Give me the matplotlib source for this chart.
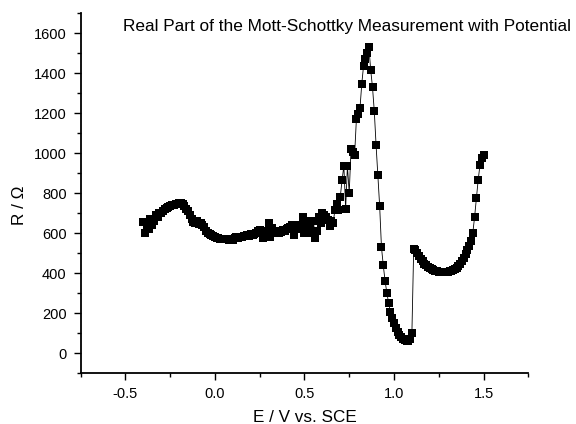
import matplotlib
matplotlib.use("Agg")
import matplotlib.pyplot as plt
import numpy as np

plt.rcParams['font.family'] = ['Liberation Sans', 'DejaVu Sans']

potential = [
    -0.40, -0.39, -0.38, -0.37, -0.36, -0.35, -0.34, -0.33, -0.32, -0.31,
    -0.30, -0.29, -0.28, -0.27, -0.26, -0.25, -0.24, -0.23, -0.22, -0.21,
    -0.20, -0.19, -0.18, -0.17, -0.16, -0.15, -0.14, -0.13, -0.12, -0.11,
    -0.10, -0.09, -0.08, -0.07, -0.06, -0.05, -0.04, -0.03, -0.02, -0.01,
    0.00, 0.01, 0.02, 0.03, 0.04, 0.05, 0.06, 0.07, 0.08, 0.09,
    0.10, 0.11, 0.12, 0.13, 0.14, 0.15, 0.16, 0.17, 0.18, 0.19,
    0.20, 0.21, 0.22, 0.23, 0.24, 0.25, 0.26, 0.27, 0.28, 0.29,
    0.30, 0.31, 0.32, 0.33, 0.34, 0.35, 0.36, 0.37, 0.38, 0.39,
    0.40, 0.41, 0.42, 0.43, 0.44, 0.45, 0.46, 0.47, 0.48, 0.49,
    0.50, 0.51, 0.52, 0.53, 0.54, 0.55, 0.56, 0.57, 0.58, 0.59,
    0.60, 0.61, 0.62, 0.63, 0.64, 0.65, 0.66, 0.67, 0.68, 0.69,
    0.70, 0.71, 0.72, 0.73, 0.74, 0.75, 0.76, 0.77, 0.78, 0.79,
    0.80, 0.81, 0.82, 0.83, 0.84, 0.85, 0.86, 0.87, 0.88, 0.89,
    0.90, 0.91, 0.92, 0.93, 0.94, 0.95, 0.96, 0.97, 0.98, 0.99,
    1.00, 1.01, 1.02, 1.03, 1.04, 1.05, 1.06, 1.07, 1.08, 1.09,
    1.10, 1.11, 1.12, 1.13, 1.14, 1.15, 1.16, 1.17, 1.18, 1.19,
    1.20, 1.21, 1.22, 1.23, 1.24, 1.25, 1.26, 1.27, 1.28, 1.29,
    1.30, 1.31, 1.32, 1.33, 1.34, 1.35, 1.36, 1.37, 1.38, 1.39,
    1.40, 1.41, 1.42, 1.43, 1.44, 1.45, 1.46, 1.47, 1.48, 1.49,
    1.50,
]

resistance = [
    655, 600, 640, 620, 670, 640, 660, 690, 680, 700,
    700, 710, 720, 725, 730, 735, 740, 740, 745, 745,
    750, 752, 745, 735, 720, 710, 690, 670, 655, 650,
    660, 645, 650, 640, 630, 610, 600, 595, 590, 585,
    580, 575, 575, 572, 570, 570, 572, 570, 568, 570,
    565, 575, 580, 578, 580, 583, 585, 588, 590, 585,
    595, 592, 598, 600, 610, 615, 605, 575, 600, 610,
    650, 580, 625, 600, 605, 610, 600, 605, 615, 610,
    620, 625, 630, 640, 590, 630, 620, 640, 625, 680,
    600, 660, 620, 640, 600, 660, 575, 610, 680, 650,
    700, 690, 680, 665, 635, 660, 650, 715, 748, 715,
    781, 865, 937, 723, 937, 801, 1020, 1005, 990, 1169,
    1195, 1224, 1346, 1437, 1470, 1500, 1530, 1415, 1330, 1210,
    1040, 890, 735, 530, 440, 362, 302, 250, 205, 175,
    148, 125, 105, 90, 78, 70, 64, 62, 62, 68,
    100, 522, 515, 500, 485, 470, 458, 447, 438, 430,
    424, 419, 415, 412, 409, 407, 406, 405, 405, 405,
    406, 408, 411, 415, 420, 427, 436, 446, 460, 475,
    495, 515, 535, 560, 600, 680, 775, 865, 940, 975,
    990,
]

x_ticks = [-0.5, 0.0, 0.5, 1.0, 1.5]
y_ticks = [0, 200, 400, 600, 800, 1000, 1200, 1400, 1600]

fig = plt.figure(figsize=(5.76, 4.24), dpi=100)
ax = fig.add_axes([80.6/576, 1-373/424, (528.3-80.6)/576, (373-13.3)/424])

ax.plot(potential, resistance, color='black', linewidth=0.6,
        marker='s', markersize=5.3, markerfacecolor='black',
        markeredgecolor='black', markeredgewidth=0)

ax.set_xlim(-0.75, 1.75)
ax.set_ylim(-100, 1700)
ax.set_xticks(x_ticks)
ax.set_xticklabels(['-0.5', '0.0', '0.5', '1.0', '1.5'])
ax.set_yticks(y_ticks)
ax.set_xticks(np.arange(-0.75, 1.76, 0.25), minor=True)
ax.set_yticks(np.arange(-100, 1701, 100), minor=True)

for s in ['top', 'right']:
    ax.spines[s].set_visible(False)
for s in ['left', 'bottom']:
    ax.spines[s].set_linewidth(1.3)

ax.tick_params(which='major', direction='out', length=5, width=1.0, labelsize=10.5, pad=5)
ax.tick_params(which='minor', direction='out', length=3, width=1.0)

ax.set_xlabel('E / V vs. SCE', fontsize=12.3)
ax.xaxis.set_label_coords(0.5, -(417-373)/359.7)
ax.xaxis.label.set_va('center')
ax.set_ylabel('R / Ω', fontsize=12.3)
ax.yaxis.set_label_coords((19-80.6)/447.7, (373-205)/359.7)
ax.yaxis.label.set_va('center')

fig.text(347/576, 1-26/424, 'Real Part of the Mott-Schottky Measurement with Potential',
         ha='center', va='center', fontsize=12.4)

fig.savefig('out.png', dpi=100)
